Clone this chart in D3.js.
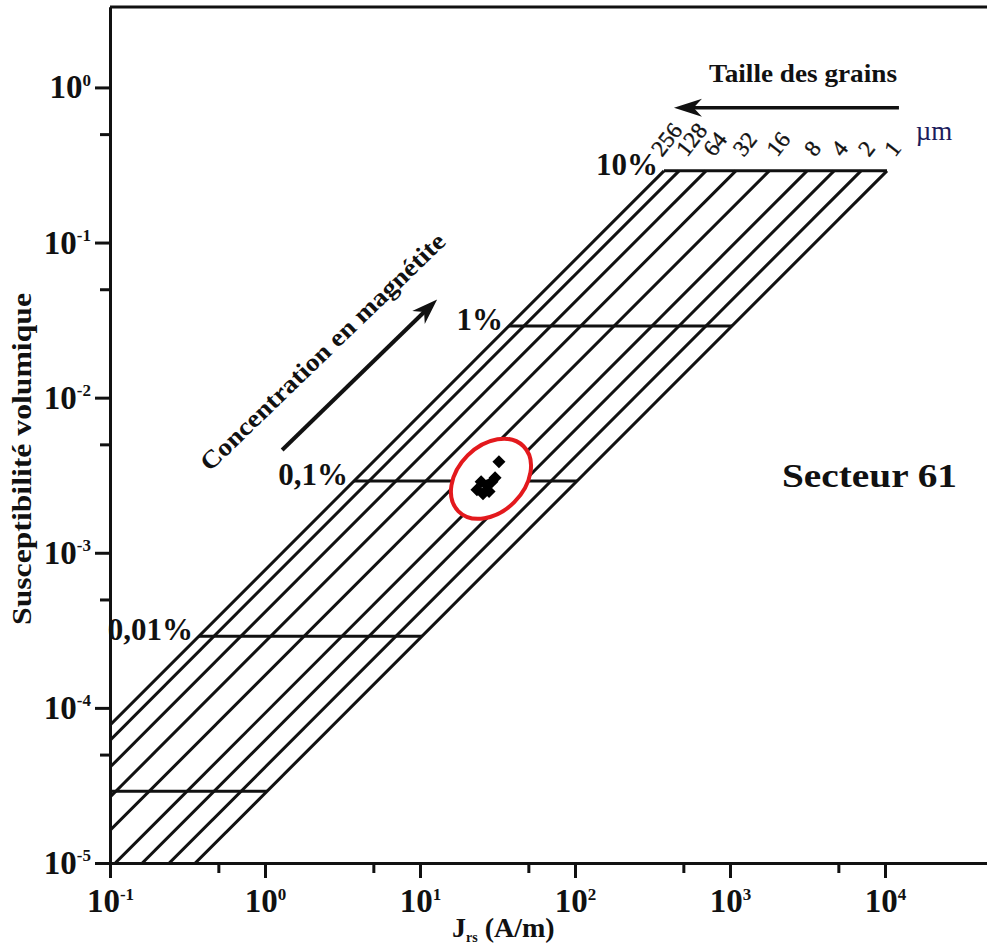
<!DOCTYPE html>
<html lang="fr">
<head>
<meta charset="UTF-8">
<title>Secteur 61</title>
<script src="https://d3js.org/d3.v7.min.js"></script>
<style>
    body { margin: 0; background: #fff; }
    svg { display: block; font-family: "Liberation Serif", "Times New Roman", serif; }
    .axis path, .axis line { stroke: #111; stroke-width: 3; fill: none; }
    .axis text { font-size: 33px; font-weight: bold; fill: #111; font-family: "Liberation Serif", serif; }
    .grid { stroke: #111; stroke-width: 3; fill: none; }
    .lbl { font-weight: bold; fill: #111; }
</style>
</head>
<body>
<svg width="987" height="948"></svg>
<script>
// concentrations en magnetite (%) et susceptibilite volumique correspondante
var concLabels = ["10%", "1%", "0,1%", "0,01%", ""];
var concValues = [10, 1, 0.1, 0.01, 0.001];
var chiValues = [0.29, 0.029, 0.0029, 0.00029, 0.000029];

// taille des grains (µm) et J (A/m) a 10% de magnetite
var grainSizes = [256, 128, 64, 32, 16, 8, 4, 2, 1];
var jAt10 = [375, 469, 700, 1090, 1790, 3140, 4690, 7000, 10300];

// echantillons du secteur 61
var pointJ = [32.3, 23.3, 25.5, 27.1, 29.1, 24.8, 27.9, 30.5];
var pointChi = [0.00386, 0.00255, 0.0024, 0.00271, 0.00287, 0.00287, 0.00248, 0.00305];
var sectorCenter = [28.7, 0.0030];

var xTicks = [0.1, 1, 10, 100, 1000, 10000];
var xMinor = [0.5, 5, 50, 500, 5000];
var yTicks = [1e-5, 1e-4, 1e-3, 1e-2, 1e-1, 1];
var yMinor = [5e-5, 5e-4, 5e-3, 5e-2, 0.5];

var margin = {top: 7, right: 0, bottom: 85, left: 110},
    width = 987 - margin.left - margin.right,
    height = 948 - margin.top - margin.bottom;

var x = d3.scaleLog().domain([0.1, 45500]).range([0, width]),
    y = d3.scaleLog().domain([1e-5, 3.3]).range([height, 0]);

var svg = d3.select("svg")
  .append("g")
    .attr("transform", "translate(" + margin.left + "," + margin.top + ")");

svg.append("clipPath").attr("id", "plot")
  .append("rect").attr("width", width).attr("height", height);

var lineGen = d3.line().x(function(d) { return x(d[0]); }).y(function(d) { return y(d[1]); });

// lignes de taille de grain (pente 1 en log-log)
var grid = svg.append("g").attr("clip-path", "url(#plot)");
grid.selectAll(".diag")
    .data(jAt10)
  .enter().append("path")
    .attr("class", "grid")
    .attr("d", function(j) {
        return lineGen([[j, chiValues[0]], [j * 1e-6, chiValues[0] * 1e-6]]);
    });

// lignes de concentration
grid.selectAll(".conc")
    .data(concValues)
  .enter().append("path")
    .attr("class", "grid")
    .attr("d", function(c, i) {
        var f = c / concValues[0];
        return lineGen([[jAt10[0] * f, chiValues[i]], [jAt10[jAt10.length - 1] * f, chiValues[i]]]);
    });

// etiquettes de concentration
svg.selectAll(".clabel")
    .data(concValues)
  .enter().append("text")
    .attr("class", "lbl")
    .attr("font-size", 31)
    .attr("text-anchor", "end")
    .attr("x", function(c) { return x(jAt10[0] * c / concValues[0]) - 6; })
    .attr("y", function(c, i) { return y(chiValues[i]) + 4; })
    .text(function(c, i) { return concLabels[i]; });

// etiquettes des tailles de grain
svg.selectAll(".glabel")
    .data(grainSizes)
  .enter().append("text")
    .attr("font-size", 23)
    .attr("fill", "#111")
    .attr("stroke", "#111").attr("stroke-width", 0.4)
    .attr("transform", function(g, i) {
        var dx = i === 0 ? -2 : 8;
        return "translate(" + (x(jAt10[i]) + dx) + "," + (y(chiValues[0]) - 13) + ") rotate(-52)";
    })
    .text(function(g) { return g; });

svg.append("text")
    .attr("x", x(15800)).attr("y", y(0.46))
    .attr("font-size", 27).attr("fill", "#1c1c5c")
    .text("µm");

// fleches
function arrow(x1, y1, x2, y2, head, w, sw) {
    var a = Math.atan2(y2 - y1, x2 - x1);
    svg.append("line")
        .attr("x1", x1).attr("y1", y1)
        .attr("x2", x2 - Math.cos(a) * head * 0.6).attr("y2", y2 - Math.sin(a) * head * 0.6)
        .attr("stroke", "#111").attr("stroke-width", sw);
    var bx = x2 - Math.cos(a) * head, by = y2 - Math.sin(a) * head;
    var px = -Math.sin(a) * w, py = Math.cos(a) * w;
    var mx = x2 - Math.cos(a) * head * 0.7, my = y2 - Math.sin(a) * head * 0.7;
    svg.append("path")
        .attr("d", "M" + x2 + "," + y2 + "L" + (bx + px) + "," + (by + py) +
                   "L" + mx + "," + my + "L" + (bx - px) + "," + (by - py) + "Z")
        .attr("fill", "#111");
}
arrow(x(12300), y(0.74), x(435), y(0.74), 28, 9, 3.5);

svg.append("text")
    .attr("class", "lbl")
    .attr("x", x(732)).attr("y", y(1.09))
    .attr("font-size", 25)
    .attr("textLength", 188).attr("lengthAdjust", "spacingAndGlyphs")
    .text("Taille des grains");

arrow(x(1.29), y(0.0046), x(12.9), y(0.043), 26, 9, 4);

var cx0 = x(0.44), cy0 = y(0.0033);
svg.append("text")
    .attr("class", "lbl")
    .attr("font-size", 25)
    .attr("transform", "translate(" + cx0 + "," + cy0 + ") rotate(-44)")
    .attr("textLength", 330).attr("lengthAdjust", "spacingAndGlyphs")
    .text("Concentration en magnétite");

// secteur 61
svg.append("ellipse")
    .attr("transform", "translate(" + x(sectorCenter[0]) + "," + y(sectorCenter[1]) + ") rotate(-45)")
    .attr("rx", 46).attr("ry", 33)
    .attr("fill", "#fff")
    .attr("stroke", "#e3191d").attr("stroke-width", 4);

var sym = d3.symbol().type(d3.symbolSquare).size(85);
svg.selectAll(".pt")
    .data(pointJ)
  .enter().append("path")
    .attr("d", sym)
    .attr("fill", "#000")
    .attr("transform", function(j, i) {
        return "translate(" + x(j) + "," + y(pointChi[i]) + ") rotate(45)";
    });

svg.append("text")
    .attr("class", "lbl")
    .attr("x", x(2165)).attr("y", y(0.00267))
    .attr("font-size", 33)
    .attr("fill", "#140a0a")
    .attr("textLength", 175).attr("lengthAdjust", "spacingAndGlyphs")
    .text("Secteur 61");

// axes
function pow10(sel) {
    sel.selectAll(".tick text").each(function(d) {
        var e = Math.round(Math.log10(d));
        var t = d3.select(this).text("");
        t.append("tspan").text("10");
        t.append("tspan").attr("font-size", 17).attr("dy", "-0.75em").text(e);
    });
}

svg.append("g")
    .attr("class", "axis")
    .attr("transform", "translate(0," + height + ")")
    .call(d3.axisBottom(x).tickValues(xTicks).tickSize(15).tickSizeOuter(0).tickPadding(11))
    .call(pow10);
svg.append("g")
    .attr("class", "axis")
    .attr("transform", "translate(0," + height + ")")
    .call(d3.axisBottom(x).tickValues(xMinor).tickSize(10).tickSizeOuter(0).tickFormat(""));

svg.append("g")
    .attr("class", "axis")
    .call(d3.axisLeft(y).tickValues(yTicks).tickSize(15).tickSizeOuter(0).tickPadding(4))
    .call(pow10);
svg.append("g")
    .attr("class", "axis")
    .call(d3.axisLeft(y).tickValues(yMinor).tickSize(10).tickSizeOuter(0).tickFormat(""));

svg.append("line")
    .attr("x1", 0).attr("x2", width).attr("y1", 0).attr("y2", 0)
    .attr("stroke", "#111").attr("stroke-width", 3);

// titres des axes
svg.append("text")
    .attr("class", "lbl")
    .attr("font-size", 27)
    .attr("text-anchor", "middle")
    .attr("transform", "translate(" + (-margin.left + 31) + "," + (height / 2 + 24) + ") rotate(-90)")
    .attr("textLength", 332).attr("lengthAdjust", "spacingAndGlyphs")
    .text("Susceptibilité volumique");

var xt = svg.append("text")
    .attr("class", "lbl")
    .attr("font-size", 28)
    .attr("x", 342).attr("y", height + 74);
xt.append("tspan").text("J");
xt.append("tspan").attr("font-size", 14).attr("dy", 5).text("rs");
xt.append("tspan").attr("dy", -5).text(" (A/m)");
</script>
</body>
</html>
